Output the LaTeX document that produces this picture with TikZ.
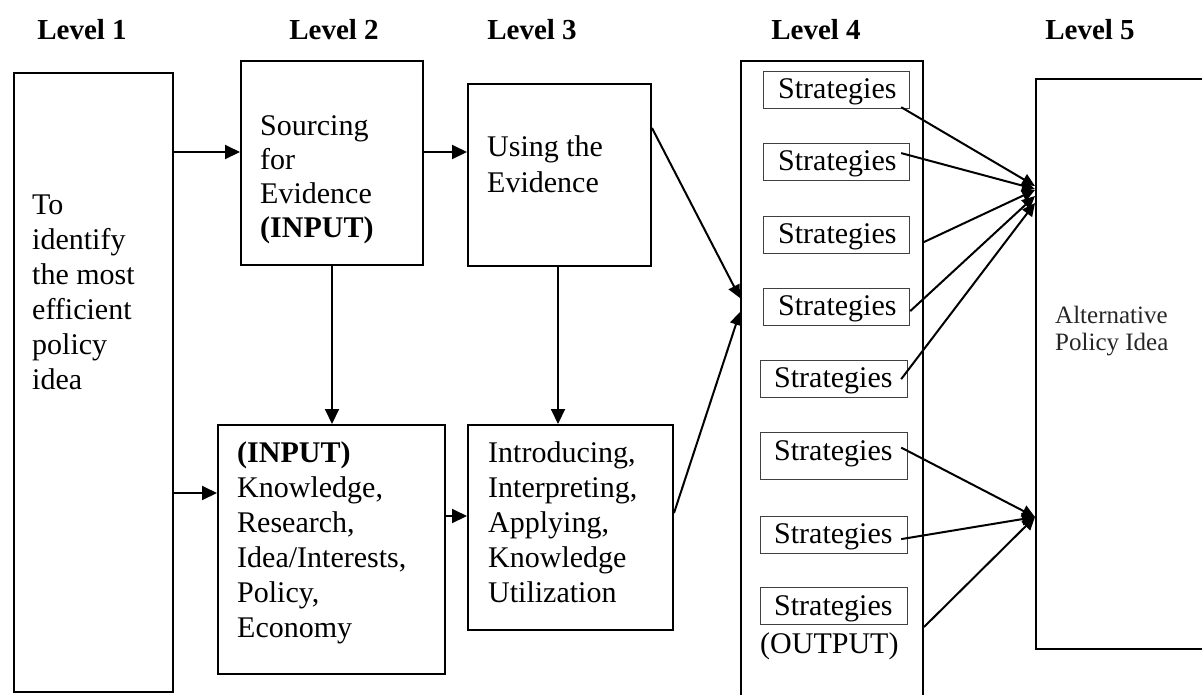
\documentclass[tikz,border=0pt]{standalone}
\usepackage{fontspec}
\setmainfont{Liberation Serif}
\usetikzlibrary{arrows.meta}
\begin{document}
\begin{tikzpicture}[x=1pt,y=-1pt,
  box/.style={draw, line width=2pt, inner sep=0pt, anchor=north west},
  sbox/.style={draw=black!75, line width=1.2pt, inner sep=0pt, anchor=north west, minimum width=146pt, minimum height=37pt},
  txt/.style={inner sep=0pt, anchor=north west, align=left, font=\fontsize{30}{35}\selectfont},
  stxt/.style={inner sep=0pt, anchor=base west, font=\fontsize{30}{35}\selectfont},
  lev/.style={inner sep=0pt, anchor=base, font=\bfseries\fontsize{29}{35}\selectfont},
  arr/.style={line width=2pt, -{Triangle[length=15pt,width=14pt]}},
  sarr/.style={line width=2pt, -{Triangle[length=13pt,width=12pt]}},
]
\useasboundingbox (0,0) rectangle (1202,694);

% level labels
\node[lev] (h1) at (82,39) {Level 1};
\node[lev] (h2) at (334,39) {Level 2};
\node[lev] (h3) at (532,39) {Level 3};
\node[lev] (h4) at (816,39) {Level 4};
\node[lev] (h5) at (1090,39) {Level 5};

% main boxes
\node[box, minimum width=159pt, minimum height=619pt] (l1) at (13,72) {};
\node[box, minimum width=182pt, minimum height=204pt] (l2a) at (240,60) {};
\node[box, minimum width=227pt, minimum height=249pt] (l2b) at (217,424) {};
\node[box, minimum width=183pt, minimum height=182pt] (l3a) at (467,83) {};
\node[box, minimum width=205pt, minimum height=205pt] (l3b) at (467,424) {};
\node[box, minimum width=182pt, minimum height=650pt] (l4) at (740,60) {};
\node[box, minimum width=180pt, minimum height=570pt] (l5) at (1035,78) {};

% texts in main boxes
\node[txt] (t1) at (32,189) {\rule{0pt}{25pt}To\\identify\\the most\\efficient\\policy\\idea};
\node[txt, font=\fontsize{30}{34}\selectfont] (t2a) at (260,110) {\rule{0pt}{25pt}Sourcing\\for\\Evidence\\\textbf{(INPUT)}};
\node[txt, font=\fontsize{30}{36}\selectfont] (t3a) at (487,131) {\rule{0pt}{25pt}Using the\\Evidence};
\node[txt] (t2b) at (237,437) {\rule{0pt}{25pt}\textbf{(INPUT)}\\Knowledge,\\Research,\\Idea/Interests,\\Policy,\\Economy};
\node[txt] (t3b) at (488,437) {\rule{0pt}{25pt}Introducing,\\Interpreting,\\Applying,\\Knowledge\\Utilization};
\node[txt, font=\fontsize{25}{27}\selectfont, text=black!85] (t5) at (1055,302) {\rule{0pt}{21pt}Alternative\\Policy Idea};

% strategies boxes
\node[sbox] (s1) at (763,71) {};
\node[sbox] (s2) at (763,143) {};
\node[sbox] (s3) at (763,216) {};
\node[sbox] (s4) at (763,288) {};
\node[sbox, minimum width=147pt] (s5) at (760,360) {};
\node[sbox, minimum width=147pt, minimum height=47pt] (s6) at (760,432) {};
\node[sbox, minimum width=147pt] (s7) at (760,516) {};
\node[sbox, minimum width=147pt] (s8) at (760,587) {};

\node[stxt] (st1) at (778,98) {Strategies};
\node[stxt] (st2) at (778,170) {Strategies};
\node[stxt] (st3) at (778,243) {Strategies};
\node[stxt] (st4) at (778,315) {Strategies};
\node[stxt] (st5) at (774,387) {Strategies};
\node[stxt] (st6) at (774,460) {Strategies};
\node[stxt] (st7) at (774,543) {Strategies};
\node[stxt] (st8) at (774,615) {Strategies};
\node[stxt] (out) at (760,653) {(OUTPUT)};

% connectors
\draw[arr] (l1.east |- 0,152) -- (l2a.west |- 0,152);
\draw[arr] (l1.east |- 0,493) -- (l2b.west |- 0,493);
\draw[arr] (l2a.east |- 0,152) -- (l3a.west |- 0,152);
\draw[arr] (l2a.south -| 332,0) -- (l2b.north -| 332,0);
\draw[arr] (l3a.south -| 558,0) -- (l3b.north -| 558,0);
\draw[arr] (l2b.east |- 0,516) -- (l3b.west |- 0,516);

\draw[sarr] (l3a.east |- 0,128) -- (l4.west |- 0,298);
\draw[sarr] (l3b.east |- 0,513) -- (l4.west |- 0,312);

\draw[sarr] ([xshift=-9pt,yshift=2pt]s1.south east) -- (l5.west |- 0,186);
\draw[sarr] ([xshift=-9pt,yshift=9pt]s2.east) -- (l5.west |- 0,189);
\draw[sarr] (l4.east |- 0,242) -- (l5.west |- 0,190);
\draw[sarr] ([yshift=-4pt]s4.east) -- (l5.west |- 0,196);
\draw[sarr] ([xshift=-7pt]s5.east) -- (l5.west |- 0,203);

\draw[sarr] ([xshift=-7pt,yshift=8.5pt]s6.east) -- (l5.west |- 0,517);
\draw[sarr] ([xshift=-7pt,yshift=-4pt]s7.east) -- (l5.west |- 0,517);
\draw[sarr] (l4.east |- 0,627) -- (l5.west |- 0,517);
\end{tikzpicture}
\end{document}
